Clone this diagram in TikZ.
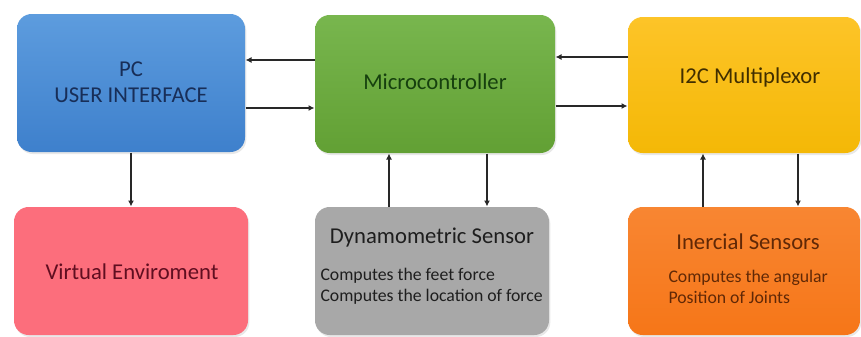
\documentclass[tikz,border=0pt]{standalone}
\usepackage{fontspec}
\setmainfont{Carlito}
\usetikzlibrary{arrows.meta,shadows}

\definecolor{pcblue}{RGB}{93,156,222}
\definecolor{pcblueb}{RGB}{62,128,204}
\definecolor{pctext}{RGB}{24,46,88}
\definecolor{mcgreen}{RGB}{120,182,78}
\definecolor{mcgreenb}{RGB}{98,160,52}
\definecolor{mctext}{RGB}{22,64,14}
\definecolor{muxyel}{RGB}{253,196,40}
\definecolor{muxyelb}{RGB}{244,184,6}
\definecolor{muxtext}{RGB}{64,46,0}
\definecolor{virtpink}{RGB}{252,110,124}
\definecolor{virttext}{RGB}{96,14,32}
\definecolor{dyngray}{RGB}{168,168,168}
\definecolor{dyntext}{RGB}{30,30,30}
\definecolor{inerorng}{RGB}{248,134,50}
\definecolor{inerorngb}{RGB}{246,118,24}
\definecolor{inertext}{RGB}{96,40,6}
\definecolor{linkgray}{RGB}{40,40,40}

\tikzset{every picture/.style={line width=0.75pt}}
\tikzset{
  blockbox/.style={rounded corners=11pt, inner sep=0pt,
    drop shadow={opacity=0.18, shadow xshift=1pt, shadow yshift=-1.5pt}},
  titletext/.style={inner sep=0pt, font=\fontsize{17}{19.5}\selectfont, align=center},
  smalltext/.style={inner sep=0pt, font=\fontsize{13.3}{16}\selectfont, align=left, anchor=west},
  link/.style={-{Latex[length=4.5pt,width=4.5pt]}, color=linkgray, line width=1pt},
}

\begin{document}
\begin{tikzpicture}[x=0.75pt,y=0.75pt,yscale=-1,xscale=1]
\useasboundingbox (0,0) rectangle (861,336);

% Blocks
\node [blockbox, top color=pcblue, bottom color=pcblueb, minimum width=171pt, minimum height=103.5pt] (pc) at (131,83) {};
\node [blockbox, top color=mcgreen, bottom color=mcgreenb, minimum width=180pt, minimum height=103.5pt] (micro) at (435,84) {};
\node [blockbox, top color=muxyel, bottom color=muxyelb, minimum width=174pt, minimum height=102pt] (mux) at (744,85) {};
\node [blockbox, fill=virtpink, minimum width=175.5pt, minimum height=96pt] (virt) at (131,271) {};
\node [blockbox, fill=dyngray, minimum width=175.5pt, minimum height=96pt] (dyn) at (432,271) {};
\node [blockbox, top color=inerorng, bottom color=inerorngb, minimum width=174pt, minimum height=96pt] (iner) at (744,271) {};

% Texts
\node [titletext, text=pctext] (pclabel) at (131,82) {PC\\USER INTERFACE};
\node [titletext, text=mctext] (microlabel) at (435,82) {Microcontroller};
\node [titletext, text=muxtext] (muxlabel) at (750,77) {I2C Multiplexor};
\node [titletext, text=virttext] (virtlabel) at (132,272) {Virtual Enviroment};
\node [titletext, text=dyntext] (dynlabel) at (432,238) {Dynamometric Sensor};
\node [smalltext, text=dyntext] (dynnote) at (320,286) {Computes the feet force\\Computes the location of force};
\node [titletext, text=inertext] (inerlabel) at (748,242) {Inercial Sensors};
\node [smalltext, text=inertext] (inernote) at (668,287) {Computes the angular\\Position of Joints};

% Connectors
\draw [link] (micro.west |- 0,60) -- (pc.east |- 0,60);
\draw [link] (pc.east |- 0,108) -- (micro.west |- 0,108);
\draw [link] (mux.west |- 0,57) -- (micro.east |- 0,57);
\draw [link] (micro.east |- 0,106) -- (mux.west |- 0,106);
\draw [link] (pc.south) -- (virt.north);
\draw [link] (dyn.north -| 389,0) -- (micro.south -| 389,0);
\draw [link] (micro.south -| 487,0) -- (dyn.north -| 487,0);
\draw [link] (iner.north -| 703,0) -- (mux.south -| 703,0);
\draw [link] (mux.south -| 798,0) -- (iner.north -| 798,0);

\end{tikzpicture}
\end{document}
